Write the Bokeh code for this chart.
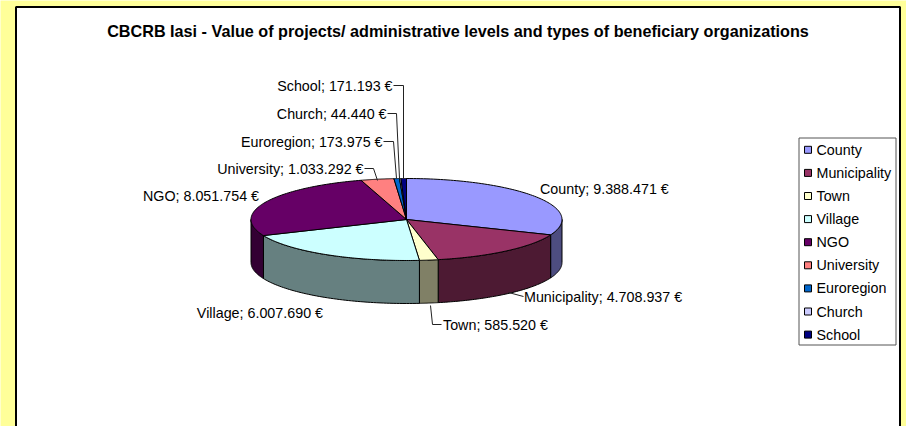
import numpy as np
from bokeh.embed import file_html
from bokeh.models import Range1d
from bokeh.plotting import figure
from bokeh.resources import INLINE
from bokeh.core.properties import value

categories = ["County", "Municipality", "Town", "Village", "NGO", "University", "Euroregion", "Church", "School"]
amounts = [9388471, 4708937, 585520, 6007690, 8051754, 1033292, 173975, 44440, 171193]
top_colors = ["#9999FF", "#993366", "#FFFFCC", "#CCFFFF", "#660066", "#FF8080", "#0066CC", "#CCCCFF", "#000080"]
side_colors = ["#4D4D80", "#4D1A33", "#808066", "#668080", "#330033", "#804040", "#003366", "#666680", "#000040"]
title = "CBCRB Iasi - Value of projects/ administrative levels and types of beneficiary organizations"

FONT = value("Liberation Sans")
W, H = 906, 426
p = figure(width=W, height=H, output_backend="svg", toolbar_location=None,
           x_range=Range1d(0, W), y_range=Range1d(H, 0), min_border=0,
           outline_line_color=None,
           background_fill_color="#FFFF99", border_fill_color="#FFFF99")
p.axis.visible = False
p.grid.visible = False

p.quad(left=15.5, right=899.5, top=6.5, bottom=440, fill_color="#FFFFFF",
       line_color="#000000", line_width=2)

p.text(x=[457.5], y=[30.5], text=[title], text_font=FONT, text_font_size="16.2px",
       text_font_style="bold", text_align="center", text_baseline="middle", text_color="#000000")

cx, cy, rx, ry, depth = 406.0, 219.0, 155.5, 41.0, 43.0
vals = np.array(amounts, dtype=float)
edges = np.concatenate([[0.0], np.cumsum(vals)]) / vals.sum() * 2 * np.pi


def pt(a):
    return cx + rx * np.sin(a), cy - ry * np.cos(a)


side_x, side_y, side_c = [], [], []
for a0, a1, c in zip(edges[:-1], edges[1:], side_colors):
    lo, hi = max(a0, np.pi / 2), min(a1, 3 * np.pi / 2)
    if hi <= lo:
        continue
    t = np.linspace(lo, hi, 60)
    x, y = pt(t)
    side_x.append(np.concatenate([x, x[::-1]]))
    side_y.append(np.concatenate([y, y[::-1] + depth]))
    side_c.append(c)
p.patches(side_x, side_y, fill_color=side_c, line_color="#000000", line_width=1)

top_x, top_y = [], []
for a0, a1 in zip(edges[:-1], edges[1:]):
    t = np.linspace(a0, a1, 90)
    x, y = pt(t)
    top_x.append(np.concatenate([[cx], x]))
    top_y.append(np.concatenate([[cy], y]))
p.patches(top_x, top_y, fill_color=top_colors, line_color="#000000", line_width=1)

labels = [f"{c}; {format(v, ',d').replace(',', '.')} €" for c, v in zip(categories, amounts)]
label_x = [539.5, 523.5, 442.5, 322.5, 258.5, 363, 382, 386, 392]
label_y = [188, 296, 324, 312, 195, 168, 141, 113, 85]
label_align = ["left", "left", "left", "right", "right", "right", "right", "right", "right"]
p.text(x=label_x, y=label_y, text=labels, text_font=FONT, text_font_size="14.3px",
       text_align=label_align, text_baseline="middle", text_color="#000000")

leader_x = [[508, 523], [430, 432, 441], [364, 373, 377], [383, 393, 396], [387, 396, 399], [393, 403, 403]]
leader_y = [[292, 296], [305, 324, 324], [168, 168, 180], [141, 141, 178], [113, 113, 178], [85, 85, 178]]
p.multi_line(leader_x, leader_y, line_color="#222222", line_width=1)

p.quad(left=798.5, right=895.5, top=137.5, bottom=344.5, fill_color="#FFFFFF",
       line_color="#555555", line_width=1)
legend_y = 149.3 + np.arange(len(categories)) * 23.1
p.rect(x=[807.5] * len(categories), y=legend_y, width=7, height=7, fill_color=top_colors,
       line_color="#000000", line_width=1)
p.text(x=[816] * len(categories), y=legend_y, text=categories, text_font=FONT, text_font_size="14.3px",
       text_align="left", text_baseline="middle", text_color="#000000")

open("out.html", "w").write(file_html(p, INLINE))
